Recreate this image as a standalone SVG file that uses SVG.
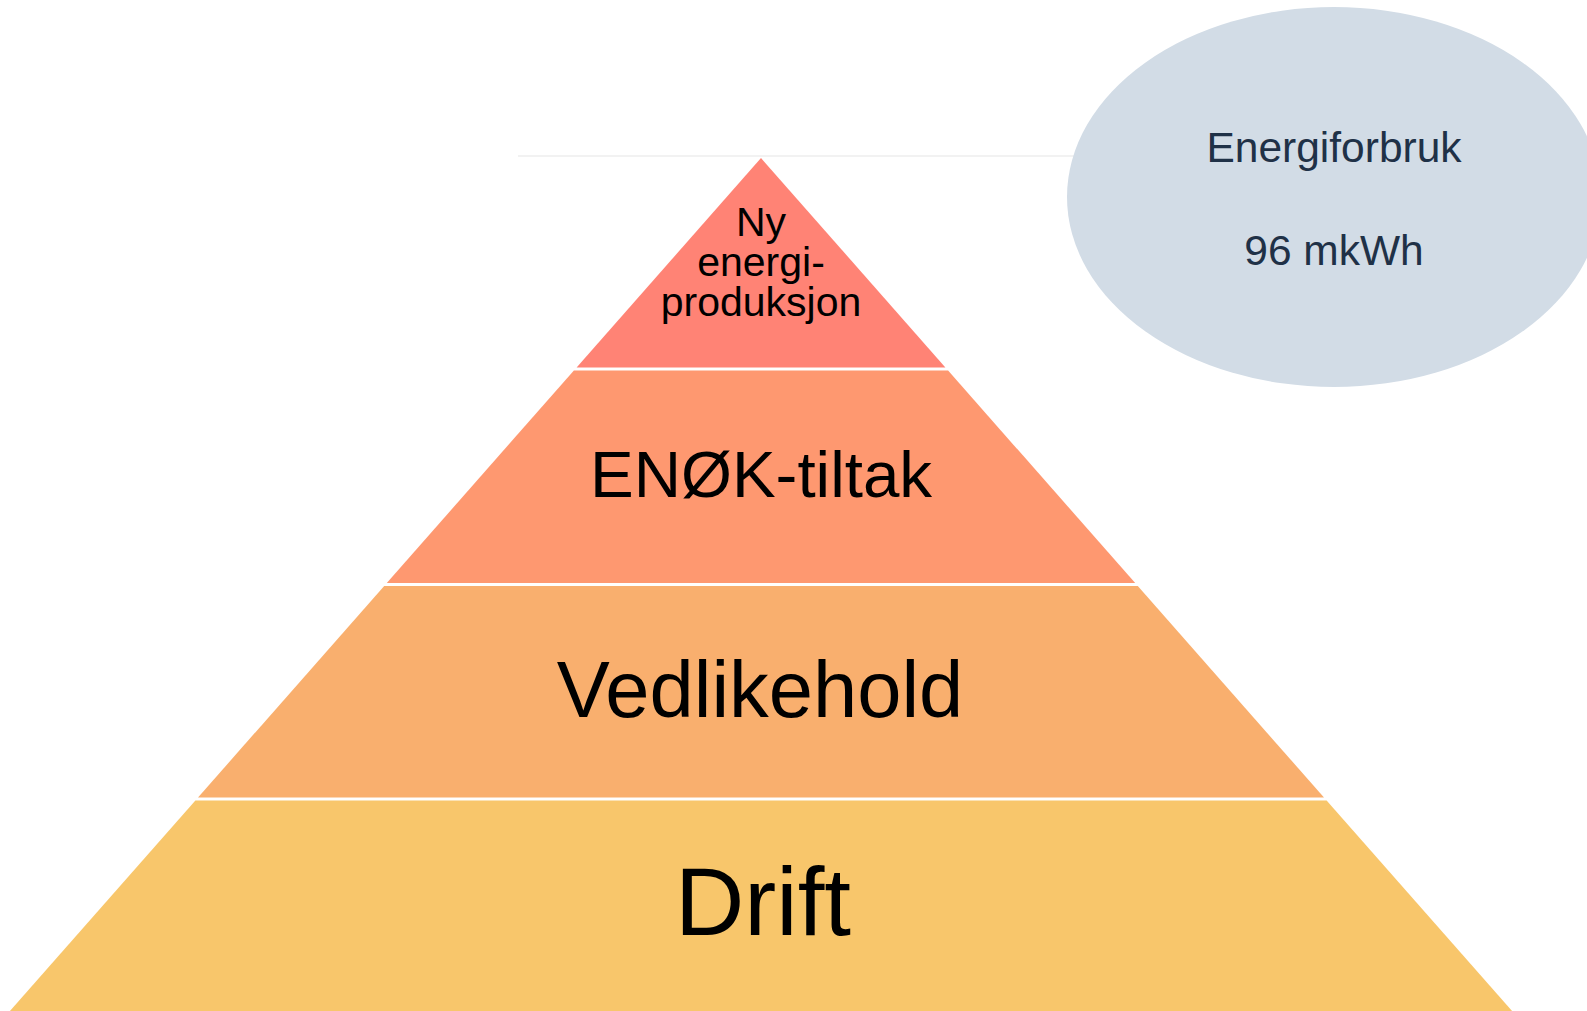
<svg xmlns="http://www.w3.org/2000/svg" width="1587" height="1011" viewBox="0 0 1587 1011">
<style>
.lbl{font-family:"Liberation Sans",Arial,sans-serif;fill:#000;text-anchor:middle}
.ell{font-family:"Liberation Sans",Arial,sans-serif;fill:#1F3147;text-anchor:middle;font-size:42.5px}
</style>
<rect x="0" y="0" width="1587" height="1011" fill="#FFFFFF"/>
<g id="connectors">
<line x1="518" y1="156" x2="1075" y2="156" stroke="#EEEEEE" stroke-width="1.5"/>
</g>
<g id="tier-ny-energiproduksjon">
<polygon points="761,158 945.4,367.5 576.6,367.5" fill="#FF8375"/>
<text class="lbl" font-size="41"><tspan x="761" y="236">Ny</tspan><tspan x="761" y="276">energi-</tspan><tspan x="761" y="316">produksjon</tspan></text>
</g>
<g id="tier-enok">
<polygon points="573.9,370.5 948.1,370.5 1135.2,583 386.8,583" fill="#FE9870"/>
<text class="lbl" font-size="65.5" x="761" y="497">ENØK-tiltak</text>
</g>
<g id="tier-vedlikehold">
<polygon points="384.2,586 1137.8,586 1324,797.5 198,797.5" fill="#F9AF6E"/>
<text class="lbl" font-size="79.5" x="760" y="717">Vedlikehold</text>
</g>
<g id="tier-drift">
<polygon points="195.4,800.5 1326.6,800.5 1520,1020 2,1020" fill="#F8C66B"/>
<text class="lbl" font-size="96" x="763" y="935">Drift</text>
</g>
<g id="energiforbruk">
<ellipse cx="1334" cy="197" rx="267" ry="190" fill="#D2DCE6"/>
<text class="ell" x="1334" y="162">Energiforbruk</text>
<text class="ell" x="1334" y="265">96 mkWh</text>
</g>
</svg>
